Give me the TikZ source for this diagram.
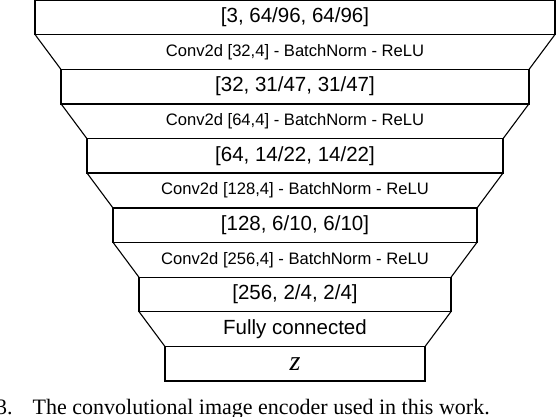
\documentclass[tikz,border=0pt]{standalone}
\usepackage{fontspec}
\setmainfont{Liberation Serif}
\setsansfont{Liberation Sans}
\begin{document}
\begin{tikzpicture}[x=1pt,y=-1pt,
  layer/.style={draw, line width=1.5pt, rectangle, inner sep=0pt, outer sep=0pt,
    minimum height=34.3pt, font=\sffamily\fontsize{20.5}{24}\selectfont},
  optext/.style={inner sep=0pt, font=\sffamily\fontsize{16.6}{20}\selectfont},
  side/.style={line width=1.1pt}]
\useasboundingbox (0,0) rectangle (556,416);
\def\s{34.64}
\node[layer, minimum width=520pt] (b1) at (295,{0.5*\s}) {[3, 64/96, 64/96]};
\node[layer, minimum width=468pt] (b2) at (295,{2.5*\s}) {[32, 31/47, 31/47]};
\node[layer, minimum width=416pt] (b3) at (295,{4.5*\s}) {[64, 14/22, 14/22]};
\node[layer, minimum width=364pt] (b4) at (295,{6.5*\s}) {[128, 6/10, 6/10]};
\node[layer, minimum width=312pt] (b5) at (295,{8.5*\s}) {[256, 2/4, 2/4]};
\node[layer, minimum width=260pt, font=\rmfamily\itshape\fontsize{28}{30}\selectfont] (b6) at (295,{10.5*\s}) {z};
\node[optext] (t1) at (295,{1.5*\s}) {Conv2d [32,4] - BatchNorm - ReLU};
\node[optext] (t2) at (295,{3.5*\s}) {Conv2d [64,4] - BatchNorm - ReLU};
\node[optext] (t3) at (295,{5.5*\s}) {Conv2d [128,4] - BatchNorm - ReLU};
\node[optext] (t4) at (295,{7.5*\s}) {Conv2d [256,4] - BatchNorm - ReLU};
\node[optext, font=\sffamily\fontsize{20.5}{24}\selectfont] (t5) at (295,{9.5*\s}) {Fully connected};
\foreach \a/\b in {b1/b2,b2/b3,b3/b4,b4/b5,b5/b6}{
  \draw[side] (\a.south west) -- (\b.north west);
  \draw[side] (\a.south east) -- (\b.north east);
}
\node[anchor=base west, inner sep=0pt, font=\rmfamily\fontsize{22}{24}\selectfont] (cap) at (-4,414)
  {3.\hspace{20pt}The convolutional image encoder used in this work.};
\end{tikzpicture}
\end{document}
